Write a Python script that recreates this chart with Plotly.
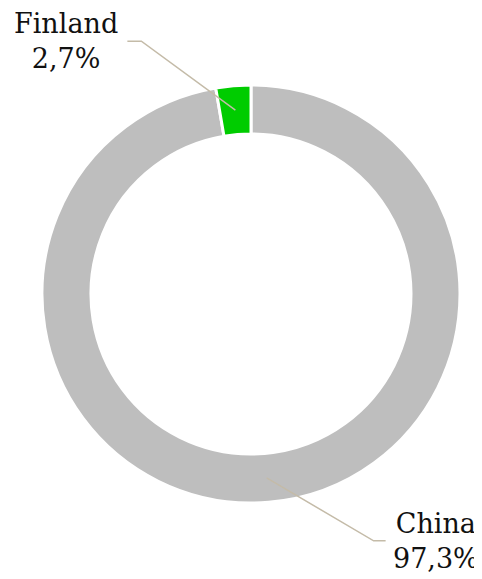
import math
import plotly.graph_objects as go

labels = ["China", "Finland"]
values = [97.3, 2.7]
colors = ["#BEBEBE", "#00CC00"]

# page body has an 8px margin; work in page pixels and shift
OFF = 8
W, H = 482 - OFF, 579 - OFF
CX, CY, R_OUT, R_IN = 251 - OFF, 294 - OFF, 209, 160
HOLE = R_IN / R_OUT

# label elbow offsets (pixels, relative to slice midpoint on ring)
elbows = [(107, 63), (-94, -69)]
tails = [12, -14]

def px(x):
    return x / W

def py(y):
    return 1 - y / H

fig = go.Figure()
fig.add_trace(go.Pie(
    labels=labels, values=values, hole=HOLE, sort=False,
    direction="clockwise", rotation=0,
    marker=dict(colors=colors, line=dict(color="white", width=3)),
    textinfo="none", hoverinfo="label+percent", showlegend=False,
    domain=dict(x=[px(CX - R_OUT), px(CX + R_OUT)], y=[py(CY + R_OUT), py(CY - R_OUT)]),
))

total = sum(values)
cum = 0
r_mid = (R_OUT + R_IN) / 2
for i, (lab, v) in enumerate(zip(labels, values)):
    mid = (cum + v / 2) / total * 2 * math.pi  # clockwise from 12 o'clock
    cum += v
    sx = CX + r_mid * math.sin(mid)
    sy = CY - r_mid * math.cos(mid)
    ex, ey = sx + elbows[i][0], sy + elbows[i][1]
    tx = ex + tails[i]
    fig.add_shape(type="path",
                  path=f"M {px(sx)} {py(sy)} L {px(ex)} {py(ey)} L {px(tx)} {py(ey)}",
                  xref="paper", yref="paper",
                  line=dict(color="#C4BBA8", width=1.5))
    pct = f"{v / total * 100:.1f}".replace(".", ",") + "%"
    fig.add_annotation(x=px(tx), y=py(ey), xref="paper", yref="paper",
                       text=f"{lab}<br>{pct}", showarrow=False,
                       xanchor="right" if tails[i] < 0 else "left",
                       yanchor="middle", align="center",
                       xshift=-7 if tails[i] < 0 else 5,
                       font=dict(family="DejaVu Serif", size=27, color="#111111"))

fig.update_layout(width=W, height=H, margin=dict(l=0, r=0, t=0, b=0),
                  paper_bgcolor="white", plot_bgcolor="white")
fig.write_html("out.html")
